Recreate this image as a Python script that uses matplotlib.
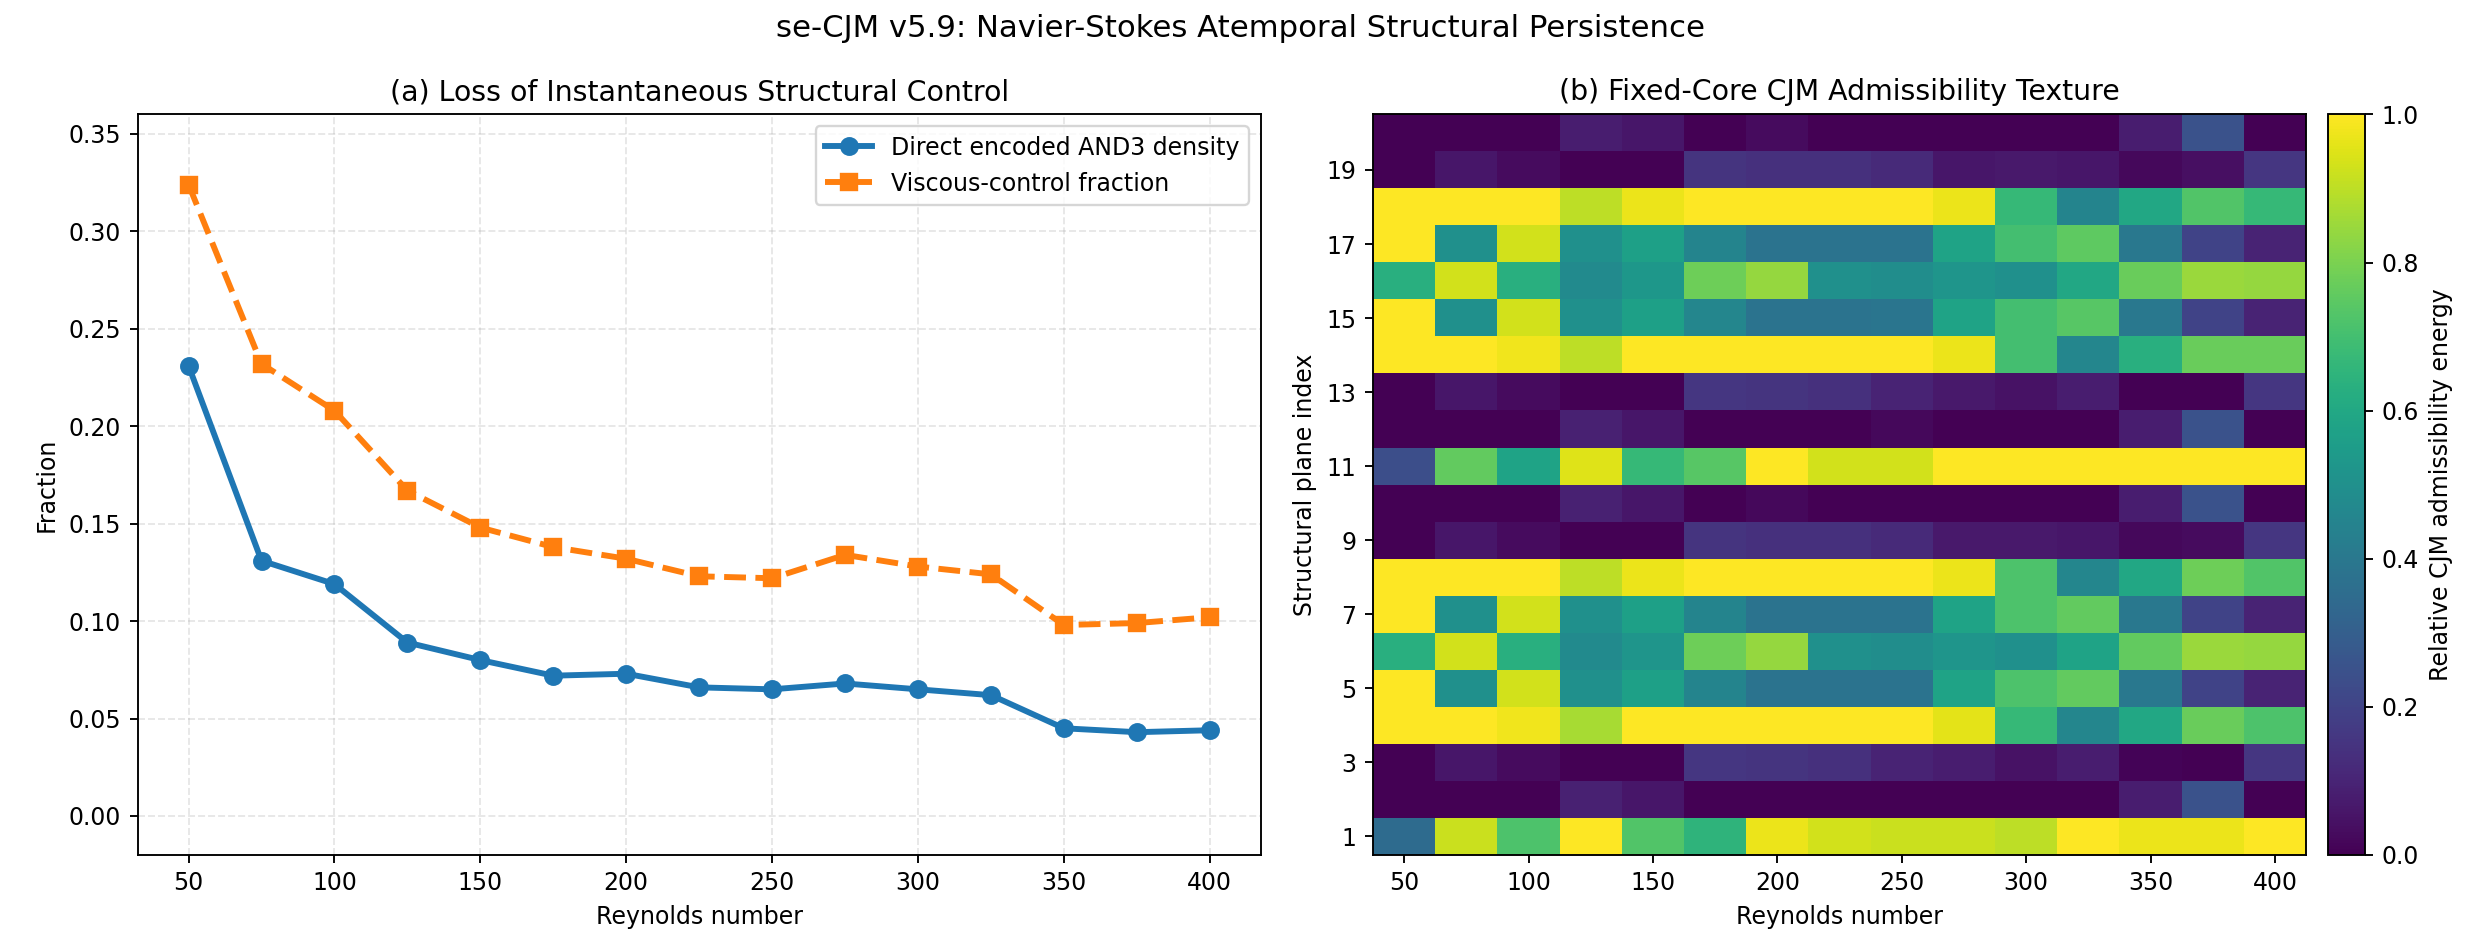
import numpy as np
import matplotlib
matplotlib.use('Agg')
import matplotlib.pyplot as plt

# Reynolds numbers
reynolds = [50, 75, 100, 125, 150, 175, 200, 225, 250, 275, 300, 325, 350, 375, 400]

# panel (a) series
and3_density = [0.231, 0.131, 0.119, 0.089, 0.080, 0.072, 0.073, 0.066, 0.065, 0.068,
                0.065, 0.062, 0.045, 0.043, 0.044]
viscous_fraction = [0.324, 0.232, 0.208, 0.167, 0.148, 0.138, 0.132, 0.123, 0.122, 0.134,
                    0.128, 0.124, 0.098, 0.099, 0.102]

# panel (b) texture, rows = structural plane 1..20 (bottom to top)
plane_index = list(range(1, 21))
texture = [
    [0.35, 0.92, 0.72, 1.00, 0.73, 0.65, 0.97, 0.93, 0.92, 0.92, 0.90, 1.00, 0.97, 0.97, 1.00],
    [0.00, 0.00, 0.00, 0.09, 0.06, 0.00, 0.00, 0.00, 0.00, 0.00, 0.00, 0.00, 0.08, 0.25, 0.00],
    [0.00, 0.06, 0.03, 0.00, 0.00, 0.16, 0.15, 0.14, 0.10, 0.08, 0.05, 0.08, 0.01, 0.00, 0.16],
    [1.00, 1.00, 0.98, 0.87, 1.00, 1.00, 1.00, 1.00, 1.00, 0.96, 0.67, 0.46, 0.60, 0.77, 0.72],
    [1.00, 0.50, 0.93, 0.50, 0.57, 0.45, 0.38, 0.38, 0.38, 0.58, 0.72, 0.76, 0.40, 0.20, 0.10],
    [0.63, 0.93, 0.63, 0.48, 0.52, 0.78, 0.84, 0.50, 0.49, 0.52, 0.50, 0.58, 0.76, 0.85, 0.84],
    [1.00, 0.50, 0.93, 0.50, 0.57, 0.45, 0.38, 0.38, 0.38, 0.58, 0.72, 0.76, 0.40, 0.20, 0.10],
    [1.00, 1.00, 1.00, 0.90, 0.97, 1.00, 1.00, 1.00, 1.00, 0.97, 0.72, 0.46, 0.60, 0.78, 0.73],
    [0.00, 0.06, 0.03, 0.00, 0.00, 0.15, 0.14, 0.14, 0.12, 0.07, 0.07, 0.06, 0.02, 0.03, 0.16],
    [0.00, 0.00, 0.00, 0.09, 0.06, 0.00, 0.02, 0.00, 0.00, 0.00, 0.00, 0.00, 0.08, 0.25, 0.00],
    [0.24, 0.76, 0.58, 0.95, 0.67, 0.74, 1.00, 0.93, 0.93, 1.00, 1.00, 1.00, 1.00, 1.00, 1.00],
    [0.00, 0.00, 0.00, 0.09, 0.06, 0.00, 0.00, 0.00, 0.02, 0.00, 0.00, 0.00, 0.08, 0.25, 0.00],
    [0.00, 0.06, 0.03, 0.00, 0.00, 0.16, 0.15, 0.14, 0.10, 0.07, 0.05, 0.08, 0.00, 0.00, 0.16],
    [1.00, 1.00, 0.98, 0.90, 1.00, 1.00, 1.00, 1.00, 1.00, 0.97, 0.70, 0.46, 0.63, 0.77, 0.77],
    [1.00, 0.50, 0.93, 0.50, 0.57, 0.46, 0.38, 0.38, 0.39, 0.58, 0.70, 0.74, 0.40, 0.20, 0.10],
    [0.63, 0.93, 0.63, 0.48, 0.53, 0.78, 0.84, 0.50, 0.49, 0.52, 0.50, 0.60, 0.77, 0.85, 0.84],
    [1.00, 0.50, 0.93, 0.50, 0.57, 0.45, 0.38, 0.38, 0.38, 0.58, 0.70, 0.75, 0.40, 0.20, 0.10],
    [1.00, 1.00, 1.00, 0.90, 0.97, 1.00, 1.00, 1.00, 1.00, 0.97, 0.67, 0.45, 0.60, 0.73, 0.67],
    [0.00, 0.06, 0.03, 0.00, 0.00, 0.15, 0.14, 0.14, 0.12, 0.06, 0.07, 0.06, 0.02, 0.04, 0.16],
    [0.00, 0.00, 0.00, 0.08, 0.06, 0.00, 0.03, 0.00, 0.00, 0.00, 0.00, 0.00, 0.08, 0.25, 0.00],
]

fig = plt.figure(figsize=(2482 / 170, 942 / 170), dpi=170)
ax1 = fig.add_axes([0.0554, 0.0924, 0.4526, 0.7861])
ax2 = fig.add_axes([0.5532, 0.0924, 0.3759, 0.7861])
cax = fig.add_axes([0.9380, 0.0924, 0.0149, 0.7861])

# (a) line chart
ax1.plot(reynolds, and3_density, '-o', color='#1f77b4', lw=2.5, ms=7,
         label='Direct encoded AND3 density')
ax1.plot(reynolds, viscous_fraction, '--s', color='#ff7f0e', lw=2.5, ms=7,
         label='Viscous-control fraction')
ax1.set_ylim(-0.02, 0.36)
ax1.set_xlabel('Reynolds number')
ax1.set_ylabel('Fraction')
ax1.set_title('(a) Loss of Instantaneous Structural Control')
ax1.grid(True, linestyle='--', alpha=0.3)
ax1.legend(loc='upper right')

# (b) heatmap
step = reynolds[1] - reynolds[0]
im = ax2.imshow(np.array(texture), aspect='auto', origin='lower', cmap='viridis',
                vmin=0, vmax=1, interpolation='nearest',
                extent=[reynolds[0] - step / 2, reynolds[-1] + step / 2,
                        plane_index[0] - 0.5, plane_index[-1] + 0.5])
ax2.set_xticks(reynolds[::2])
ax2.set_yticks(plane_index[::2])
ax2.set_xlabel('Reynolds number')
ax2.set_ylabel('Structural plane index')
ax2.set_title('(b) Fixed-Core CJM Admissibility Texture')
cb = fig.colorbar(im, cax=cax)
cb.set_label('Relative CJM admissibility energy')

fig.suptitle('se-CJM v5.9: Navier-Stokes Atemporal Structural Persistence',
             fontsize=13, y=0.985)

plt.savefig('out.png', dpi=170)
